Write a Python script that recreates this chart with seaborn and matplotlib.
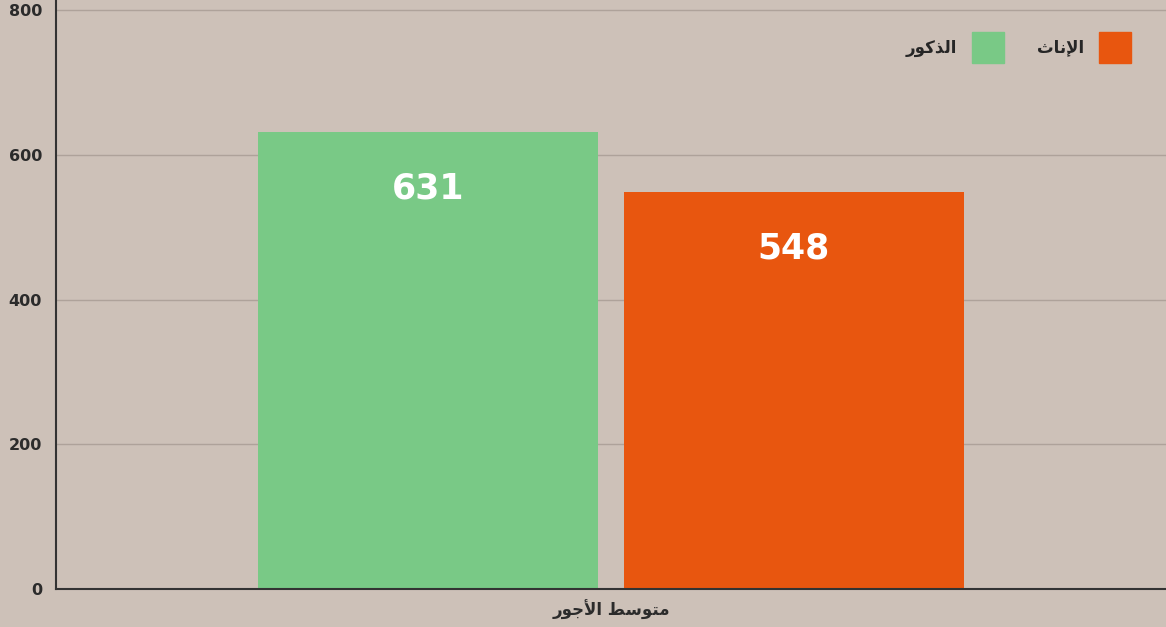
import numpy as np
import pandas as pd
import matplotlib
matplotlib.use("Agg")
import matplotlib.pyplot as plt
import matplotlib.patches as mpatches
import seaborn as sns

# ---- data ----
category = "متوسط الأجور"
groups = ["الذكور", "الإناث"]
values = [631, 548]
colors = ["#79c986", "#e8560f"]
yticks = [0, 200, 400, 600, 800]

# ---- minimal Arabic shaping (matplotlib has no shaping/bidi) ----
FORMS = {
    "\u0627": ("\uFE8D", "\uFE8E", None, None),
    "\u0623": ("\uFE83", "\uFE84", None, None),
    "\u0625": ("\uFE87", "\uFE88", None, None),
    "\u0644": ("\uFEDD", "\uFEDE", "\uFEDF", "\uFEE0"),
    "\u0646": ("\uFEE5", "\uFEE6", "\uFEE7", "\uFEE8"),
    "\u062B": ("\uFE99", "\uFE9A", "\uFE9B", "\uFE9C"),
    "\u0630": ("\uFEAB", "\uFEAC", None, None),
    "\u0643": ("\uFED9", "\uFEDA", "\uFEDB", "\uFEDC"),
    "\u0648": ("\uFEED", "\uFEEE", None, None),
    "\u0631": ("\uFEAD", "\uFEAE", None, None),
    "\u0645": ("\uFEE1", "\uFEE2", "\uFEE3", "\uFEE4"),
    "\u062A": ("\uFE95", "\uFE96", "\uFE97", "\uFE98"),
    "\u0633": ("\uFEB1", "\uFEB2", "\uFEB3", "\uFEB4"),
    "\u0637": ("\uFEC1", "\uFEC2", "\uFEC3", "\uFEC4"),
    "\u062C": ("\uFE9D", "\uFE9E", "\uFE9F", "\uFEA0"),
    "LA\u0627": ("\uFEFB", "\uFEFC", None, None),
    "LA\u0623": ("\uFEF7", "\uFEF8", None, None),
    "LA\u0625": ("\uFEF9", "\uFEFA", None, None),
}


def shape(text):
    toks = []
    i = 0
    while i < len(text):
        c = text[i]
        if c == "\u0644" and i + 1 < len(text) and text[i + 1] in "\u0627\u0623\u0625":
            toks.append("LA" + text[i + 1])
            i += 2
        else:
            toks.append(c)
            i += 1
    out = []
    for k, t in enumerate(toks):
        if t not in FORMS:
            out.append(t)
            continue
        prev = toks[k - 1] if k > 0 else None
        nxt = toks[k + 1] if k + 1 < len(toks) else None
        jp = prev in FORMS and FORMS[prev][2] is not None
        jn = FORMS[t][2] is not None and nxt in FORMS
        iso, fin, ini, med = FORMS[t]
        if jp and jn:
            out.append(med)
        elif jp:
            out.append(fin)
        elif jn:
            out.append(ini)
        else:
            out.append(iso)
    return "".join(out)[::-1]


# ---- styling ----
bg = "#cdc1b8"
sns.set_theme(style="white")
plt.rcParams["font.family"] = ["DejaVu Sans"]

df = pd.DataFrame({"category": [category] * len(groups), "group": groups, "value": values})

fig = plt.figure(figsize=(11.66, 6.27), dpi=100, facecolor=bg)
ax = fig.add_axes([56 / 1166, 38 / 627, 1 - 56 / 1166, 1 - 38 / 627])
ax.set_facecolor(bg)

sns.barplot(data=df, x="category", y="value", hue="group", hue_order=groups,
            palette=colors, saturation=1, width=0.659, gap=0.07, legend=False,
            linewidth=0, ax=ax)

ax.set_xlim(-0.5, 0.5)
ax.set_ylim(0, 814)
ax.set_yticks(yticks)
ax.set_yticklabels([str(v) for v in yticks], fontsize=11.5, fontweight="bold", color="#2b2b2b")
ax.set_xticks([0])
ax.set_xticklabels([shape(category)], fontsize=12, fontweight="bold", color="#2b2b2b")
ax.tick_params(axis="x", length=0, pad=8)
ax.tick_params(axis="y", length=6, width=1, color="#a89d95", pad=4)
ax.set_xlabel("")
ax.set_ylabel("")

ax.grid(axis="y", color="#aea29a", linewidth=1)
ax.set_axisbelow(True)
for s in ["top", "right"]:
    ax.spines[s].set_visible(False)
for s in ["left", "bottom"]:
    ax.spines[s].set_color("#333333")
    ax.spines[s].set_linewidth(1.5)

# value labels inside bars
for patch, v in zip(ax.patches, values):
    ax.annotate(str(v), xy=(patch.get_x() + patch.get_width() / 2, patch.get_height()),
                xytext=(0, -56), textcoords="offset pixels", ha="center", va="center",
                color="white", fontsize=25, fontweight="bold")

handles = [mpatches.Patch(facecolor=c, edgecolor=c) for c in colors]
ax.legend(handles, [shape(g) for g in groups], ncol=2, markerfirst=False, frameon=False,
          loc="upper right", bbox_to_anchor=((1131 - 56) / 1110, (589 - 32) / 589),
          borderaxespad=0, borderpad=0, handlelength=1.9, handleheight=2.45,
          handletextpad=0.9, columnspacing=2.0,
          prop={"family": "DejaVu Sans", "weight": "bold", "size": 12})

fig.savefig("out.png", dpi=100, facecolor=bg)
